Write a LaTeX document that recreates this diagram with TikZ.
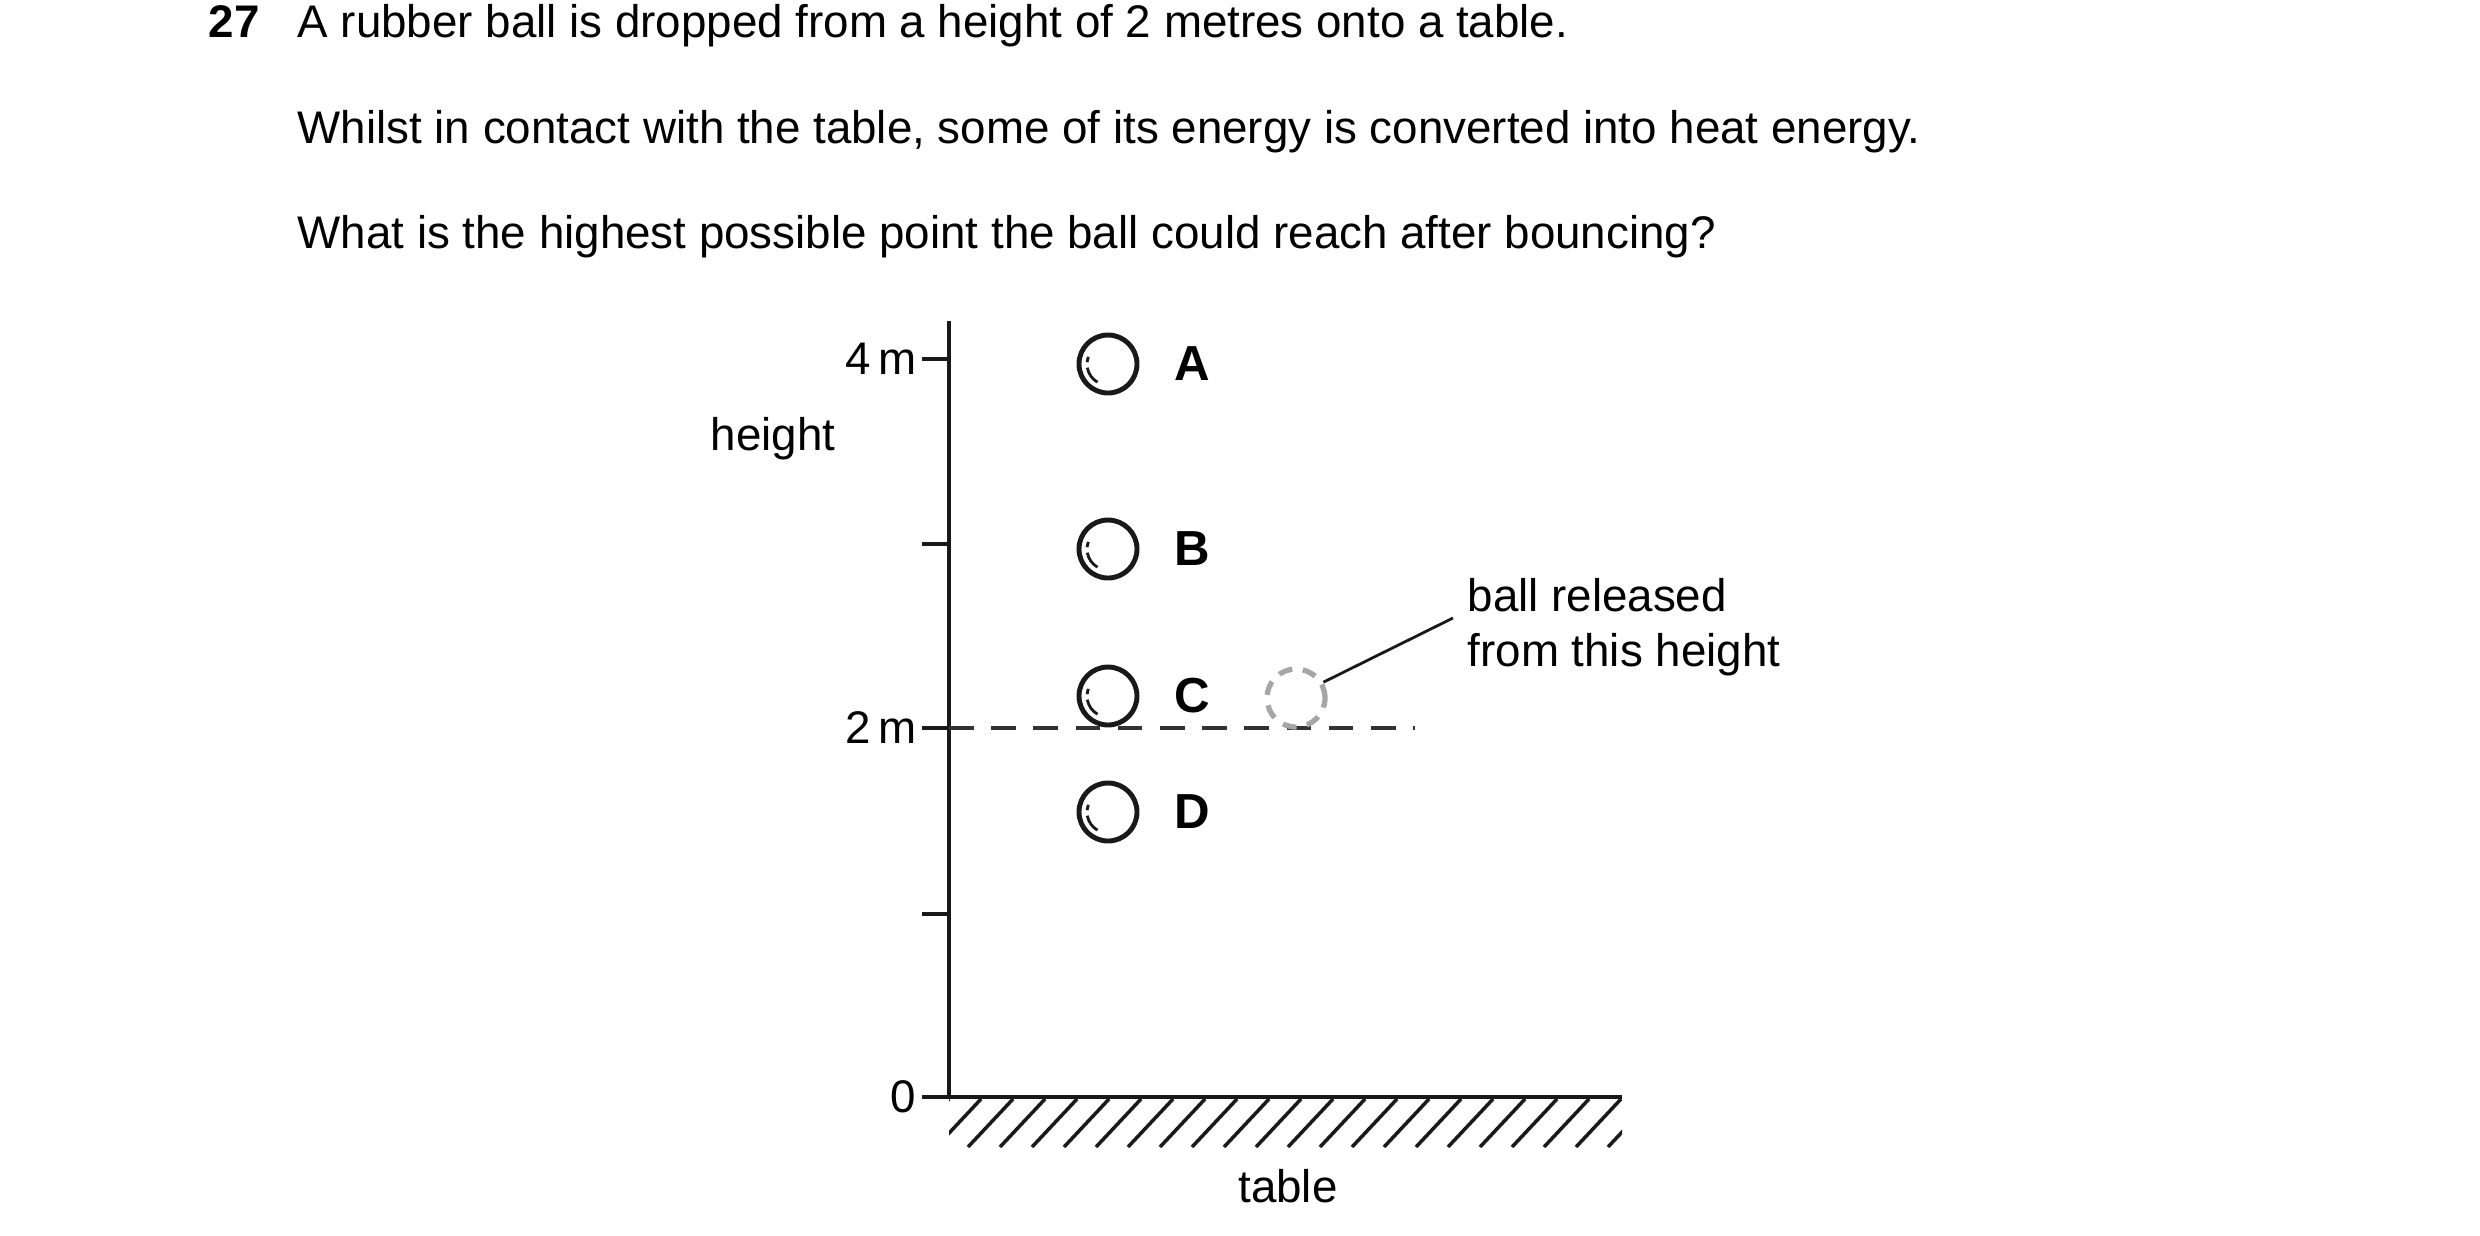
\documentclass[tikz,border=0pt]{standalone}
\usepackage{fontspec}
\setmainfont{Liberation Sans}
\begin{document}
\begin{tikzpicture}[x=0.01cm,y=-0.01cm,
  txt/.style={inner sep=0pt,font=\fontsize{13}{16}\selectfont},
  lab/.style={inner sep=0pt,font=\fontsize{14}{16}\selectfont\bfseries},
  ax/.style={line width=1.3pt,black!90}]
\useasboundingbox (0,0) rectangle (2480,1235);
\node[inner sep=0pt,font=\fontsize{13}{16}\selectfont\bfseries,anchor=base west] (q) at (208,37) {27};
\node[txt,anchor=base west] (l1) at (297,37) {A rubber ball is dropped from a height of 2 metres onto a table.};
\node[txt,anchor=base west] (l2) at (297,143) {Whilst in contact with the table, some of its energy is converted into heat energy.};
\node[txt,anchor=base west] (l3) at (297,248) {What is the highest possible point the ball could reach after bouncing?};
% axes
\coordinate (top) at (949,321);
\coordinate (o) at (949,1097);
\coordinate (te) at (1622,1097);
\draw[ax] (top) -- (o) -- (te);
\foreach \y in {359,544,728,914,1097} \draw[ax] (922,\y) -- (949,\y);
\node[txt,anchor=east] (m4) at (917,359) {4\,m};
\node[txt,anchor=east] (m2) at (917,728) {2\,m};
\node[txt,anchor=east] (m0) at (917,1097) {0};
\node[txt] (h) at (773,439) {height};
\node[txt] (tab) at (1288,1186) {table};
\begin{scope}
\clip (949,1097) rectangle (1622,1147);
\foreach \x in {949,981,...,1660} \draw[line width=1pt,black!90] (\x,1099) -- (\x-45,1147);
\end{scope}
% dashed 2m line
\coordinate (d1) at (949,728);
\coordinate (d2) at (1415,728);
\draw[line width=0.9pt,black!80,dash pattern=on 7pt off 5pt] (d1) -- (d2);
% balls
\foreach \n/\y in {A/364,B/549,C/696,D/812}{
  \draw[line width=1.4pt,black!90] (1108,\y) circle (29);
  \draw[line width=0.8pt,black!90] (1108,\y) ++(120:21) arc (120:170:21);
  \draw[line width=0.8pt,black!90] (1108,\y) ++(185:21) arc (185:200:21);
  \node[lab] (\n) at (1192,\y) {\n};
}
\node[circle,draw=black!35,line width=1.5pt,dash pattern=on 4pt off 3pt,minimum size=0.58cm,inner sep=0pt] (rel) at (1296,698) {};
\node[txt,align=left,anchor=west,font=\fontsize{13}{15.5}\selectfont] (note) at (1467,627) {ball released\\from this height};
\draw[line width=0.8pt,black!90] (rel.30) -- (1453,618);
\end{tikzpicture}
\end{document}
